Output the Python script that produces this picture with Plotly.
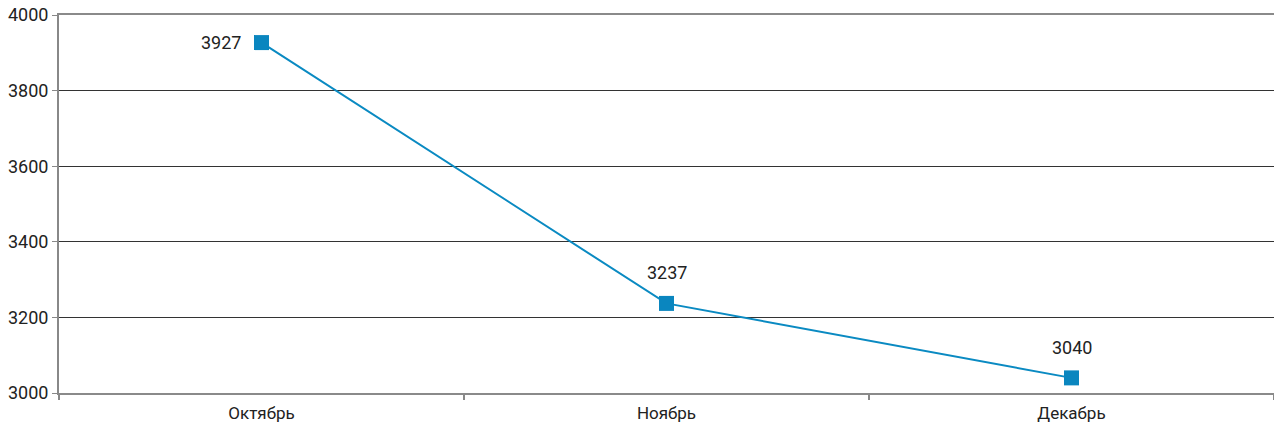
import plotly.graph_objects as go

months = ["Октябрь", "Ноябрь", "Декабрь"]
values = [3927, 3237, 3040]

fig = go.Figure()
fig.add_trace(go.Scatter(
    x=months,
    y=values,
    mode="lines+markers",
    line=dict(color="#0A8AC2", width=2),
    marker=dict(symbol="square", size=15, color="#0A86BF"),
    cliponaxis=False,
    showlegend=False,
))

# value labels: first one to the left of its point, the rest above
for i, (m, v) in enumerate(zip(months, values)):
    if i == 0:
        fig.add_annotation(x=m, y=v, text=str(v), showarrow=False,
                           xanchor="right", yanchor="middle", xshift=-19)
    else:
        fig.add_annotation(x=m, y=v, text=str(v), showarrow=False,
                           xanchor="center", yanchor="bottom", yshift=18)

fig.update_layout(
    width=1274,
    height=425,
    margin=dict(l=59, r=0, t=15, b=32),
    paper_bgcolor="white",
    plot_bgcolor="white",
    font=dict(family="Roboto", size=18, color="#222222"),
    xaxis=dict(
        range=[-0.5, 2.5],
        tickson="boundaries",
        ticks="outside",
        ticklen=5,
        tickwidth=2,
        tickcolor="#888888",
        showgrid=False,
        showline=True,
        mirror=True,
        linecolor="#8a8a8a",
        linewidth=2,
        ticklabelstandoff=4,
        tickfont=dict(size=17),
    ),
    yaxis=dict(
        range=[3000, 4000],
        dtick=200,
        ticks="outside",
        ticklen=5,
        tickcolor="#888888",
        showgrid=True,
        gridcolor="#333333",
        gridwidth=1,
        showline=True,
        linecolor="#888888",
        linewidth=2,
        zeroline=False,
        tickfont=dict(size=18),
    ),
)

fig.write_html("out.html")
